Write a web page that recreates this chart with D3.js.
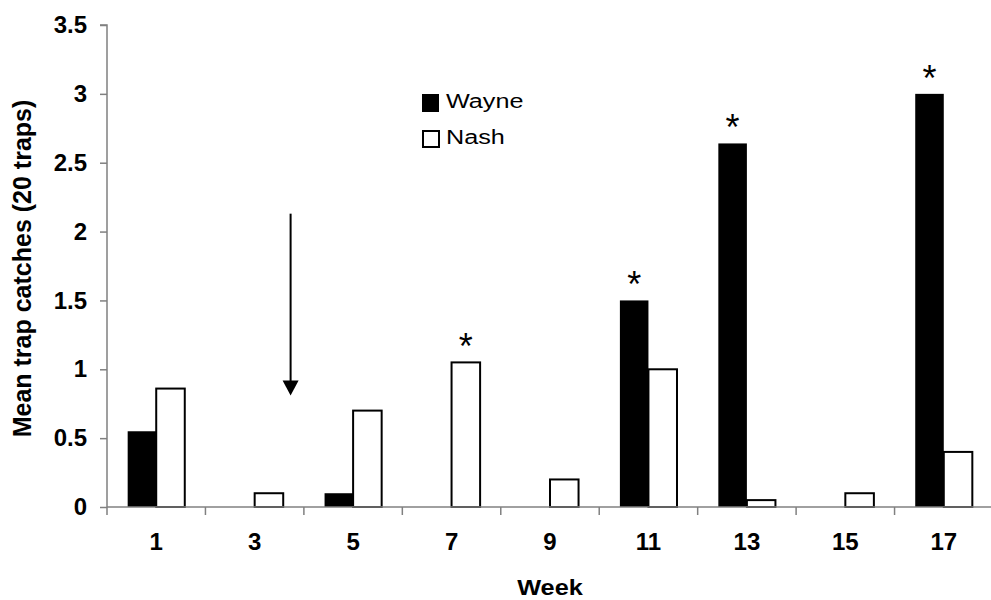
<!DOCTYPE html>
<html>
<head>
<meta charset="utf-8">
<script src="https://cdn.jsdelivr.net/npm/d3@7"></script>
<style>
  html, body { margin: 0; padding: 0; background: #ffffff; }
  svg { display: block; }
  text { font-family: "Liberation Sans", Arial, sans-serif; fill: #000; }
</style>
</head>
<body>
<svg id="chart" width="991" height="600"></svg>
<script>
// ---------- data ----------
const weeks = ["1", "3", "5", "7", "9", "11", "13", "15", "17"];
const series = ["Wayne", "Nash"];
const wayne = [0.55, 0, 0.1, 0, 0, 1.5, 2.64, 0, 3.0];
const nash  = [0.86, 0.1, 0.7, 1.05, 0.2, 1.0, 0.05, 0.1, 0.4];
const yTicks = [0, 0.5, 1, 1.5, 2, 2.5, 3, 3.5];
const yTickLabels = ["0", "0.5", "1", "1.5", "2", "2.5", "3", "3.5"];
// significance markers: [week, series]
const stars = [["7", "Nash"], ["11", "Wayne"], ["13", "Wayne"], ["17", "Wayne"]];
// arrow annotation in data units (week position, value)
const arrowWeek = 3.73, arrowFrom = 2.13, arrowTo = 0.81;
const yTitle = "Mean trap catches (20 traps)";
const xTitle = "Week";

// ---------- layout ----------
const svg = d3.select("#chart");
const pL = 107, pR = 993, pT = 25, pB = 507;

const y = d3.scaleLinear().domain([0, 3.5]).range([pB, pT]);
const xCat = d3.scaleBand().domain(weeks).range([pL, pR]).padding(0);
const xGroup = d3.scaleBand().domain(weeks).range([pL, pR])
  .paddingInner(0.42).paddingOuter(0.21);
const xSub = d3.scaleBand().domain(series).range([0, xGroup.bandwidth()]).padding(0);
const xWeek = d3.scaleLinear().domain([0, 18]).range([pL, pR]);
const color = d3.scaleOrdinal().domain(series).range(["#000000", "#ffffff"]);

const values = { Wayne: wayne, Nash: nash };
const rows = [];
weeks.forEach((w, i) => series.forEach(s => rows.push({ week: w, series: s, value: values[s][i] })));

// ---------- bars ----------
const bars = svg.append("g");
bars.selectAll("rect.wayne")
  .data(rows.filter(d => d.series === "Wayne" && d.value > 0))
  .join("rect")
  .attr("x", d => xGroup(d.week) + xSub(d.series))
  .attr("y", d => y(d.value))
  .attr("width", xSub.bandwidth())
  .attr("height", d => y(0) - y(d.value))
  .attr("fill", "#000");
bars.selectAll("rect.nash")
  .data(rows.filter(d => d.series === "Nash" && d.value > 0))
  .join("rect")
  .attr("x", d => xGroup(d.week) + xSub(d.series))
  .attr("y", d => y(d.value))
  .attr("width", xSub.bandwidth())
  .attr("height", d => y(0) - y(d.value))
  .attr("fill", "#fff")
  .attr("stroke", "#000")
  .attr("stroke-width", 2);

// ---------- axes ----------
const axisColor = "#808080";
const yAxis = svg.append("g").attr("transform", `translate(${pL},0)`)
  .call(d3.axisLeft(y).tickValues(yTicks).tickFormat((d, i) => yTickLabels[i]).tickSize(7).tickPadding(13));
yAxis.select(".domain").attr("stroke", axisColor).attr("stroke-width", 1.5).attr("d", `M-7,${pT}H0V${pB + 8}`);
yAxis.selectAll(".tick line").attr("stroke", axisColor).attr("stroke-width", 1.5);
yAxis.selectAll(".tick text").attr("font-size", 24).attr("font-weight", "bold")
  .attr("font-family", "'Liberation Sans', Arial, sans-serif").attr("fill", "#000");

const xAxis = svg.append("g").attr("transform", `translate(0,${pB})`)
  .call(d3.axisBottom(xCat).tickSize(0).tickPadding(26));
xAxis.select(".domain").attr("stroke", axisColor).attr("stroke-width", 1.5).attr("d", `M${pL},0H991`);
xAxis.selectAll(".tick text").attr("font-size", 24).attr("font-weight", "bold")
  .attr("font-family", "'Liberation Sans', Arial, sans-serif").attr("fill", "#000");
// category boundary ticks
svg.append("g").selectAll("line")
  .data(weeks.slice(1))
  .join("line")
  .attr("x1", d => xCat(d)).attr("x2", d => xCat(d))
  .attr("y1", pB).attr("y2", pB + 8)
  .attr("stroke", axisColor).attr("stroke-width", 1.5);

// ---------- titles ----------
svg.append("text")
  .attr("transform", `translate(31,${(95 + 442) / 2}) rotate(-90)`)
  .attr("text-anchor", "middle")
  .attr("font-size", 25).attr("font-weight", "bold")
  .text(yTitle);
svg.append("g")
  .attr("transform", `translate(${(pL + pR) / 2},595) scale(1.15,1)`)
  .append("text")
  .attr("text-anchor", "middle")
  .attr("font-size", 22).attr("font-weight", "bold")
  .text(xTitle);

// ---------- significance stars ----------
svg.append("g").selectAll("text")
  .data(stars)
  .join("text")
  .attr("x", d => xGroup(d[0]) + xSub(d[1]) + xSub.bandwidth() / 2)
  .attr("y", d => y(values[d[1]][weeks.indexOf(d[0])]) - 3)
  .attr("text-anchor", "middle")
  .attr("font-size", 36)
  .text("*");

// ---------- arrow ----------
const ax = xWeek(arrowWeek);
svg.append("line")
  .attr("x1", ax).attr("x2", ax)
  .attr("y1", y(arrowFrom)).attr("y2", y(arrowTo) - 12)
  .attr("stroke", "#000").attr("stroke-width", 2);
svg.append("path")
  .attr("d", `M${ax - 8},${y(arrowTo) - 15}L${ax + 8},${y(arrowTo) - 15}L${ax},${y(arrowTo)}Z`)
  .attr("fill", "#000");

// ---------- legend ----------
const legend = svg.append("g").attr("transform", "translate(422,94)");
const li = legend.selectAll("g").data(series).join("g")
  .attr("transform", (d, i) => `translate(0,${i * 36})`);
li.append("rect")
  .attr("x", d => d === "Nash" ? 1 : 0).attr("y", d => d === "Nash" ? 1 : 0)
  .attr("width", d => d === "Nash" ? 16 : 17).attr("height", d => d === "Nash" ? 16 : 18)
  .attr("fill", d => color(d))
  .attr("stroke", d => d === "Nash" ? "#000" : "none")
  .attr("stroke-width", 2);
li.append("g")
  .attr("transform", "translate(24,13.5) scale(1.2,1)")
  .append("text")
  .attr("font-size", 21)
  .text(d => d);
</script>
</body>
</html>
